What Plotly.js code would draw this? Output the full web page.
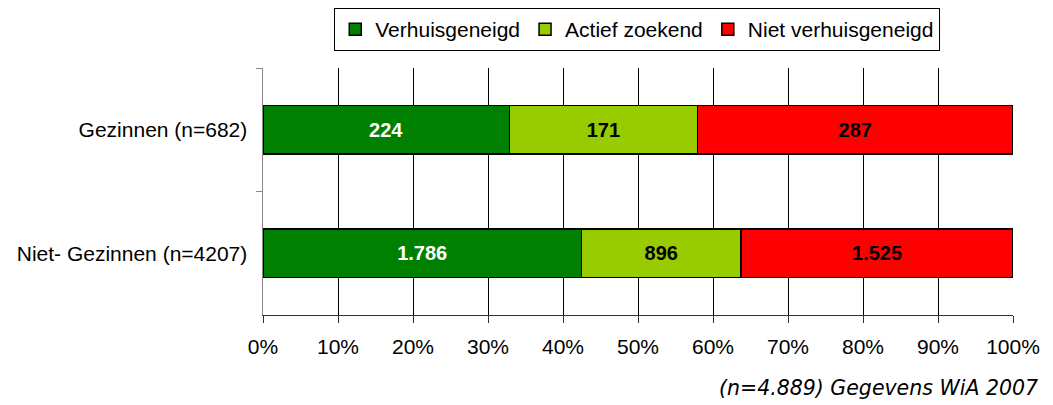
<!DOCTYPE html>
<html>
<head>
<meta charset="utf-8">
<script src="https://cdn.plot.ly/plotly-3.0.1.min.js"></script>
<style>html,body{margin:0;padding:0;background:#fff;}#chart{width:1053px;height:405px;}</style>
</head>
<body>
<div id="chart"></div>
<script>
const categories = ["Gezinnen (n=682)", "Niet- Gezinnen (n=4207)"];
const seriesNames = ["Verhuisgeneigd", "Actief zoekend", "Niet verhuisgeneigd"];
const verhuisgeneigd = [224, 1786];
const actiefZoekend = [171, 896];
const nietVerhuisgeneigd = [287, 1525];
const xTickVals = [0, 10, 20, 30, 40, 50, 60, 70, 80, 90, 100];
const footnote = "(n=4.889) Gegevens WiA 2007";

const colors = ["#008000", "#99CC00", "#FF0000"];
const textColors = ["#ffffff", "#000000", "#000000"];
const seriesValues = [verhuisgeneigd, actiefZoekend, nietVerhuisgeneigd];

const FONT = "Liberation Sans, Arial, sans-serif";

const traces = seriesValues.map((vals, i) => ({
  type: "bar",
  orientation: "h",
  name: seriesNames[i],
  y: categories,
  x: vals,
  customdata: vals,
  texttemplate: "%{customdata:,}",
  textposition: "inside",
  insidetextanchor: "middle",
  constraintext: "none",
  textfont: {family: FONT, size: 20, color: textColors[i], weight: "bold"},
  marker: {color: colors[i], line: {color: "#000000", width: 1.5}},
  width: 0.39,
  hoverinfo: "skip"
}));

const layout = {
  width: 1053,
  height: 405,
  margin: {l: 263, r: 40, t: 68, b: 90, pad: 0},
  paper_bgcolor: "#ffffff",
  plot_bgcolor: "#ffffff",
  barmode: "stack",
  barnorm: "percent",
  separators: ",.",
  font: {family: FONT, size: 21, color: "#000000"},
  showlegend: true,
  legend: {
    orientation: "h",
    xref: "paper",
    yref: "container",
    x: 0.499, xanchor: "center",
    y: 0.9802, yanchor: "top",
    bgcolor: "#ffffff",
    bordercolor: "#000000",
    borderwidth: 1,
    itemwidth: 30,
    font: {family: FONT, size: 21, color: "#000000"},
    traceorder: "normal",
    itemclick: false
  },
  xaxis: {
    range: [0, 100],
    tickvals: xTickVals,
    ticktext: xTickVals.map(v => v + "%"),
    showgrid: true,
    gridcolor: "#000000",
    gridwidth: 1,
    zeroline: false,
    showline: true,
    linecolor: "#333333",
    linewidth: 1,
    ticks: "outside",
    ticklen: 7,
    tickcolor: "#333333",
    ticklabelstandoff: 6,
    tickfont: {family: FONT, size: 21, color: "#000000"},
    fixedrange: true
  },
  yaxis: {
    type: "category",
    autorange: "reversed",
    tickson: "boundaries",
    ticks: "outside",
    ticklen: 6,
    tickcolor: "#888888",
    showline: true,
    linecolor: "#888888",
    linewidth: 1.5,
    showgrid: false,
    zeroline: false,
    ticklabelstandoff: 10,
    tickfont: {family: FONT, size: 21, color: "#000000"},
    fixedrange: true
  },
  annotations: [{
    text: "<i>" + footnote + "</i>",
    xref: "paper", yref: "paper",
    x: 1.036, xanchor: "right",
    y: -0.2955, yanchor: "middle",
    showarrow: false,
    font: {family: "DejaVu Sans, Verdana, sans-serif", size: 20.5, color: "#000000"}
  }]
};

Plotly.newPlot("chart", traces, layout, {displayModeBar: false, staticPlot: true});
</script>
</body>
</html>
